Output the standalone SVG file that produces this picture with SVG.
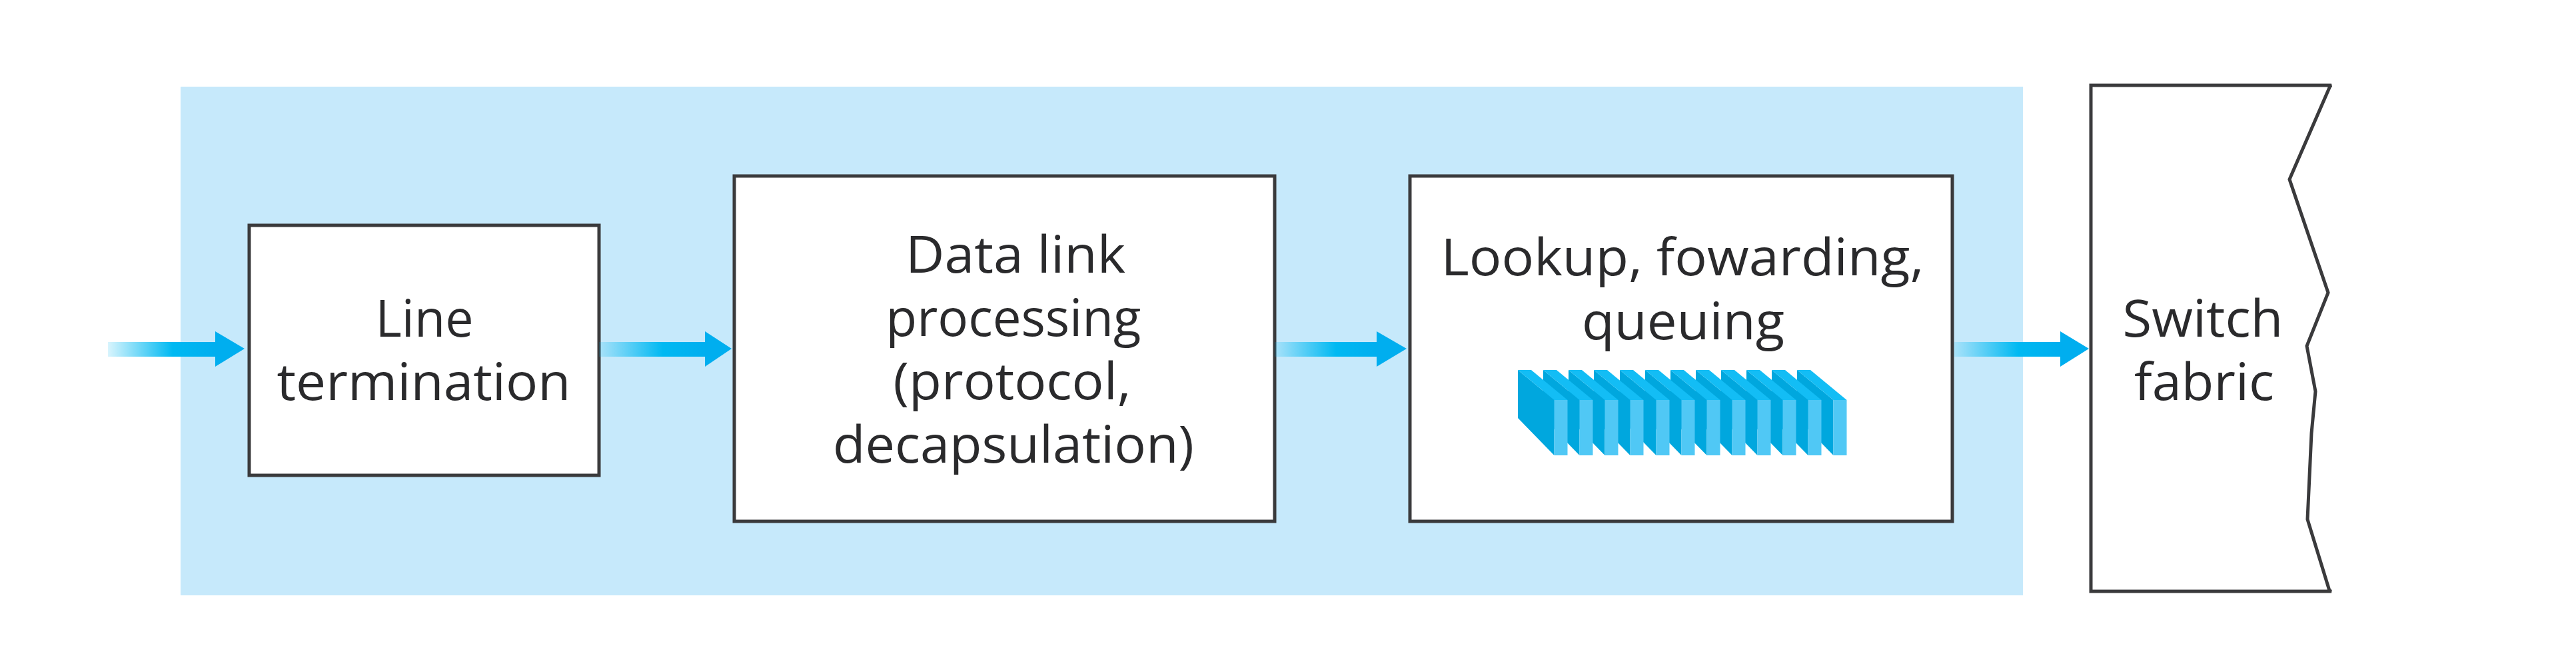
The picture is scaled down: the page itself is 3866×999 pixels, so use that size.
<svg xmlns="http://www.w3.org/2000/svg" xmlns:xlink="http://www.w3.org/1999/xlink" width="3866" height="999" viewBox="0 0 3866 999">
<style>
.box{fill:#fff;stroke:#3a3a3c;stroke-width:5}
text{font-family:"Open Sans","Noto Sans","Liberation Sans",sans-serif;font-size:77px;fill:#2a2a2c;text-anchor:middle}
.head{fill:#00aeef}
.shaft{fill:url(#fade)}
.side{fill:#00a7de}.top{fill:#13bdf5}.front{fill:#50c8f5}
</style>
<defs>
<linearGradient id="fade" x1="0" y1="0" x2="1" y2="0">
<stop offset="0" stop-color="#00b9f2" stop-opacity="0.15"/>
<stop offset="0.6" stop-color="#00b9f2"/>
<stop offset="1" stop-color="#00aeef"/>
</linearGradient>
<g id="sheet">
<polygon class="side" points="0,45 54.5,45 54.5,128 0,72"/>
<polygon class="side" points="0,0 54.5,45 0,45"/>
<polygon class="top" points="0,0 20,0 74.5,45 54.5,45"/>
<rect class="front" x="54.5" y="45" width="20" height="83"/>
</g>
</defs>
<rect width="3866" height="999" fill="#fff"/>
<rect id="panel" x="271" y="130" width="2765" height="763" fill="#c6e9fb"/>
<g id="line-termination">
<rect class="box" x="374" y="338" width="525" height="375"/>
<text x="637" y="505" textLength="147" lengthAdjust="spacingAndGlyphs">Line</text>
<text x="636" y="600" textLength="441" lengthAdjust="spacingAndGlyphs">termination</text>
</g>
<g id="data-link">
<rect class="box" x="1102" y="264" width="811" height="518"/>
<text x="1524" y="409" textLength="330" lengthAdjust="spacingAndGlyphs">Data link</text>
<text x="1521" y="504" textLength="383" lengthAdjust="spacingAndGlyphs">processing</text>
<text x="1519" y="599" textLength="357" lengthAdjust="spacingAndGlyphs">(protocol,</text>
<text x="1521" y="694" textLength="542" lengthAdjust="spacingAndGlyphs">decapsulation)</text>
</g>
<g id="lookup">
<rect class="box" x="2116" y="264" width="814" height="518"/>
<text x="2525" y="413" textLength="725" lengthAdjust="spacingAndGlyphs">Lookup, fowarding,</text>
<text x="2526" y="509" textLength="304" lengthAdjust="spacingAndGlyphs">queuing</text>
<g id="queue" transform="translate(0,555)">
<use xlink:href="#sheet" href="#sheet" x="2697"/>
<use xlink:href="#sheet" href="#sheet" x="2659"/>
<use xlink:href="#sheet" href="#sheet" x="2621"/>
<use xlink:href="#sheet" href="#sheet" x="2583"/>
<use xlink:href="#sheet" href="#sheet" x="2545"/>
<use xlink:href="#sheet" href="#sheet" x="2507"/>
<use xlink:href="#sheet" href="#sheet" x="2469"/>
<use xlink:href="#sheet" href="#sheet" x="2431"/>
<use xlink:href="#sheet" href="#sheet" x="2392"/>
<use xlink:href="#sheet" href="#sheet" x="2354"/>
<use xlink:href="#sheet" href="#sheet" x="2316"/>
<use xlink:href="#sheet" href="#sheet" x="2278"/>
</g>
</g>
<g id="switch-fabric">
<polygon points="3138,128 3499,128 3497,129 3436,269 3494,439 3462,519 3475,587 3469,650 3463,779 3496,886 3499,887 3138,887" fill="#fff" stroke="#3a3a3c" stroke-width="5"/>
<text x="3306" y="505" textLength="241" lengthAdjust="spacingAndGlyphs">Switch</text>
<text x="3308" y="600" textLength="210" lengthAdjust="spacingAndGlyphs">fabric</text>
</g>
<g id="connectors">
<g><rect class="shaft" x="162" y="513" width="162" height="22"/><polygon class="head" points="323,497 367,523 323,550"/></g>
<g><rect class="shaft" x="899" y="513" width="160" height="22"/><polygon class="head" points="1058,497 1098,523 1058,550"/></g>
<g><rect class="shaft" x="1913" y="513" width="154" height="22"/><polygon class="head" points="2066,497 2111,523 2066,550"/></g>
<g><rect class="shaft" x="2933" y="513" width="160" height="22"/><polygon class="head" points="3092,497 3135,523 3092,550"/></g>
</g>
</svg>
